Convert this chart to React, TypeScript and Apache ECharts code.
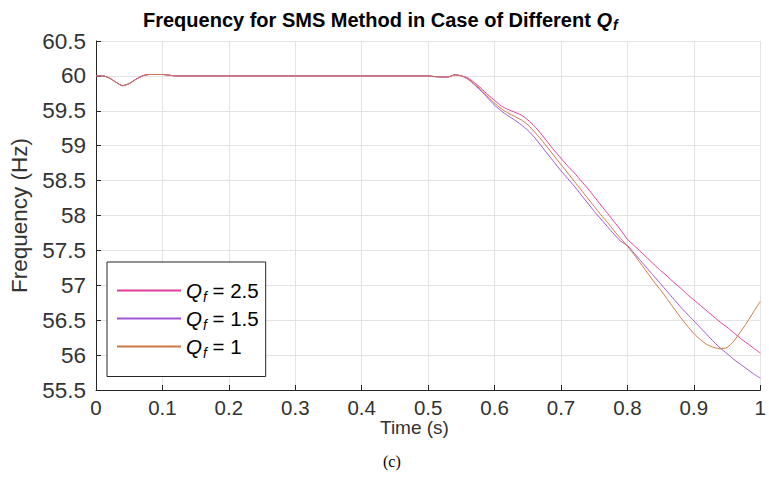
import React, { useEffect, useRef } from "react";
import * as echarts from "echarts";

const time = [
  0, 0.01, 0.02, 0.03, 0.04, 0.05, 0.06, 0.07, 0.08, 0.09, 0.1, 0.11, 0.12, 0.2, 0.3, 0.4, 0.5, 0.51, 0.52, 0.53, 0.54, 0.55,
  0.56, 0.57, 0.58, 0.59, 0.6, 0.61, 0.62, 0.63, 0.64, 0.65, 0.66, 0.67, 0.68, 0.69, 0.7, 0.71, 0.72, 0.73, 0.74, 0.75,
  0.76, 0.77, 0.78, 0.79, 0.8, 0.81, 0.82, 0.83, 0.84, 0.85, 0.86, 0.87, 0.88, 0.89, 0.9, 0.91, 0.92, 0.93, 0.94, 0.95,
  0.96, 0.97, 0.98, 0.99, 1.0,
];

const startPart = [60, 60, 59.97, 59.91, 59.86, 59.89, 59.95, 60.0, 60.02, 60.02, 60.02, 60.01, 60.0, 60, 60, 60, 60, 59.99, 59.985, 59.985, 60.015, 60.0];

const qf25 = [
  ...startPart,
  59.97, 59.9, 59.82, 59.73, 59.65, 59.57, 59.52, 59.48, 59.44, 59.37, 59.28, 59.17, 59.05, 58.93, 58.82, 58.71, 58.61, 58.5, 58.39, 58.27,
  58.15, 58.03, 57.91, 57.79, 57.66, 57.57, 57.48, 57.39, 57.3, 57.21, 57.13, 57.04, 56.96, 56.87, 56.79, 56.71, 56.63, 56.55, 56.47, 56.4,
  56.32, 56.24, 56.17, 56.1, 56.03,
];

const qf15 = [
  ...startPart,
  59.95, 59.87, 59.78, 59.68, 59.58, 59.5, 59.43, 59.37, 59.3, 59.22, 59.12, 59.0, 58.88, 58.76, 58.64, 58.53, 58.42, 58.3, 58.18, 58.06,
  57.95, 57.84, 57.73, 57.63, 57.57, 57.46, 57.35, 57.24, 57.13, 57.02, 56.91, 56.8, 56.69, 56.59, 56.49, 56.39, 56.29, 56.19, 56.1, 56.02,
  55.94, 55.87, 55.8, 55.73, 55.67,
];

const qf1 = [
  ...startPart,
  59.96, 59.88, 59.8, 59.7, 59.61, 59.53, 59.47, 59.42, 59.37, 59.3, 59.2, 59.09, 58.97, 58.85, 58.73, 58.61, 58.49, 58.37, 58.25, 58.13,
  58.01, 57.9, 57.78, 57.67, 57.56, 57.44, 57.31, 57.18, 57.05, 56.93, 56.8, 56.67, 56.54, 56.42, 56.31, 56.22, 56.15, 56.11, 56.09, 56.11,
  56.2, 56.33, 56.47, 56.62, 56.77,
];

const seriesNames = ["2.5", "1.5", "1"];
const seriesColors = ["#df3c9c", "#a055d2", "#cc7a42"];
const seriesData = [qf25, qf15, qf1];

const xTicks = [0, 0.1, 0.2, 0.3, 0.4, 0.5, 0.6, 0.7, 0.8, 0.9, 1];
const yTicks = [55.5, 56, 56.5, 57, 57.5, 58, 58.5, 59, 59.5, 60, 60.5];

const FONT = "Liberation Sans, Arial, Helvetica, sans-serif";

export default function App() {
  const ref = useRef<HTMLDivElement>(null);
  useEffect(() => {
    if (!ref.current) return;
    const chart = echarts.init(ref.current, null, { renderer: "svg" });
    const axisColor = "#262626";
    const labelColor = "#333333";
    chart.setOption({
      animation: false,
      backgroundColor: "#ffffff",
      title: {
        left: 138,
        top: 2,
        text: "{a|Frequency for SMS Method in Case of Different }{q|Q}{s|f}",
        textStyle: {
          rich: {
            a: { fontFamily: FONT, fontWeight: "bold", fontSize: 20, color: "#000" },
            q: { fontFamily: FONT, fontWeight: "bold", fontStyle: "italic", fontSize: 20, color: "#000" },
            s: { fontFamily: FONT, fontWeight: "bold", fontStyle: "italic", fontSize: 14, color: "#000", padding: [11, 0, 0, 1] },
          },
        },
      },
      grid: { left: 96, right: 4, top: 41, bottom: 92, containLabel: false },
      xAxis: {
        type: "value",
        min: xTicks[0],
        max: xTicks[xTicks.length - 1],
        interval: 0.1,
        axisLine: { show: true, lineStyle: { color: axisColor, width: 1 } },
        axisTick: { show: true, inside: true, length: 5, lineStyle: { color: axisColor } },
        axisLabel: { color: labelColor, fontFamily: FONT, fontSize: 20.5, margin: 7, formatter: (v: number) => String(Math.round(v * 10) / 10) },
        splitLine: { show: true, lineStyle: { color: "#e3e3e3", width: 1 } },
      },
      yAxis: {
        type: "value",
        min: yTicks[0],
        max: yTicks[yTicks.length - 1],
        interval: 0.5,
        name: "Frequency (Hz)",
        nameLocation: "middle",
        nameGap: 53,
        nameTextStyle: { color: labelColor, fontFamily: FONT, fontSize: 22.5 },
        axisLine: { show: true, lineStyle: { color: axisColor, width: 1 } },
        axisTick: { show: true, inside: true, length: 5, lineStyle: { color: axisColor } },
        axisLabel: { color: labelColor, fontFamily: FONT, fontSize: 22.5, margin: 10 },
        splitLine: { show: true, lineStyle: { color: "#e3e3e3", width: 1 } },
      },
      legend: {
        orient: "vertical",
        left: 107,
        top: 262,
        itemWidth: 64,
        itemHeight: 2,
        itemGap: 4.5,
        icon: "rect",
        padding: [18, 7, 17, 10],
        borderColor: axisColor,
        borderWidth: 1,
        backgroundColor: "#ffffff",
        data: seriesNames.map((n) => "Qf = " + n),
        formatter: (name: string) => "{q|Q}{s|f}{t|" + name.slice(2) + "}",
        textStyle: {
          rich: {
            q: { fontFamily: FONT, fontStyle: "italic", fontSize: 20.5, color: "#000" },
            s: { fontFamily: FONT, fontStyle: "italic", fontSize: 14, color: "#000", padding: [12, 0, 0, 1] },
            t: { fontFamily: FONT, fontSize: 20.5, color: "#000" },
          },
        },
      },
      graphic: [
        {
          type: "text",
          left: 380,
          top: 418,
          style: { text: "Time (s)", fill: labelColor, font: "19px " + FONT },
        },
        {
          type: "text",
          left: 383,
          top: 453,
          style: { text: "(c)", fill: "#000", font: "16px 'Liberation Serif', 'Times New Roman', serif" },
        },
      ],
      series: seriesNames.map((n, i) => ({
        name: "Qf = " + n,
        type: "line",
        showSymbol: false,
        symbol: "none",
        smooth: 0.25,
        lineStyle: { color: seriesColors[i], width: 1 },
        itemStyle: { color: seriesColors[i] },
        data: time.map((t, k) => [t, seriesData[i][k]]),
      })),
    });
    return () => chart.dispose();
  }, []);
  return <div ref={ref} style={{ position: "fixed", left: 0, top: 0, width: 769, height: 482 }} />;
}
